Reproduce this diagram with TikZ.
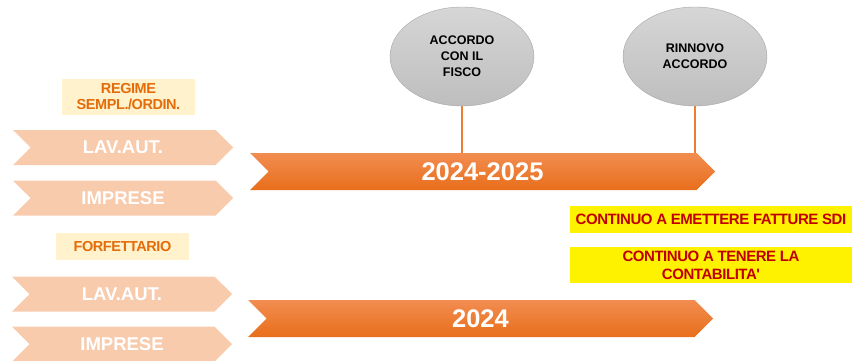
\documentclass[tikz,border=0pt]{standalone}
\usepackage{fontspec}
\setmainfont{Liberation Sans}
\newfontfamily\tightsans[LetterSpace=-3]{Liberation Sans}
\usepackage{tikz}
\usetikzlibrary{shapes.geometric,shapes.symbols,positioning,calc}
\definecolor{peach}{HTML}{F8CBAD}
\definecolor{cream}{HTML}{FFF2CC}
\definecolor{orangetext}{HTML}{E46C0A}
\definecolor{bandtop}{HTML}{F28D50}
\definecolor{bandbot}{HTML}{E86E1C}
\definecolor{linkorange}{HTML}{ED7D31}
\definecolor{darkred}{HTML}{C00000}
\definecolor{ovaltop}{HTML}{D6D6D6}
\definecolor{ovalbot}{HTML}{BEBEBE}

\begin{document}
\begin{tikzpicture}[x=1pt,y=-1pt,
  smallband/.style={shape=signal,signal from=west,signal to=east,signal pointer angle=90,fill=peach,text=white,
    font=\fontsize{18.5}{20}\selectfont\bfseries,minimum width=220pt,minimum height=35pt,inner sep=0pt},
  bigband/.style={shape=signal,signal from=west,signal to=east,signal pointer angle=90,top color=bandtop,bottom color=bandbot,
    draw=none,text=white,font=\fontsize{25.5}{28}\selectfont\bfseries,minimum width=465pt,minimum height=37pt,inner sep=0pt},
  regime/.style={fill=cream,text=orangetext,font=\tightsans\fontsize{14.5}{16}\selectfont\bfseries,align=center,inner sep=0pt,
    minimum width=133pt},
  oval/.style={shape=ellipse,top color=ovaltop,bottom color=ovalbot,draw=gray!70,line width=0.4pt,
    minimum width=144pt,minimum height=99pt,align=center,font=\fontsize{12.5}{16}\selectfont\bfseries,inner sep=0pt},
  note/.style={fill=yellow,text=darkred,font=\tightsans\fontsize{15}{18}\selectfont\bfseries,align=center,inner sep=0pt,
    minimum width=282pt},
  link/.style={draw=linkorange,line width=1.4pt}]
\useasboundingbox (0,0) rectangle (852,361);

\node[regime,minimum height=36pt] (regime) at (128.5,97) {REGIME\\SEMPL./ORDIN.};
\node[smallband] (lavaut1) at (123,147.5) {LAV.AUT.};
\node[smallband] (imprese1) at (123,198) {IMPRESE};

\node[regime,minimum height=27pt] (forfet) at (122.5,246.5) {FORFETTARIO};
\node[smallband] (lavaut2) at (122,294) {LAV.AUT.};
\node[smallband] (imprese2) at (122,344) {IMPRESE};

\node[bigband] (period1) at (482.5,171.5) {2024-2025};
\node[bigband] (period2) at (480.5,318.5) {2024};

\node[oval] (accordo) at (462,56.5) {ACCORDO\\CON IL\\FISCO};
\node[oval] (rinnovo) at (695,56.5) {RINNOVO\\ACCORDO};
\draw[link] (accordo.south) -- (accordo.south |- period1.north);
\draw[link] (rinnovo.south) -- (rinnovo.south |- period1.north);

\node[note,minimum height=27pt] (sdi) at (711,219.5) {CONTINUO A EMETTERE FATTURE SDI};
\node[note,minimum height=36pt] (conta) at (711,265) {CONTINUO A TENERE LA\\CONTABILITA'};
\end{tikzpicture}
\end{document}
